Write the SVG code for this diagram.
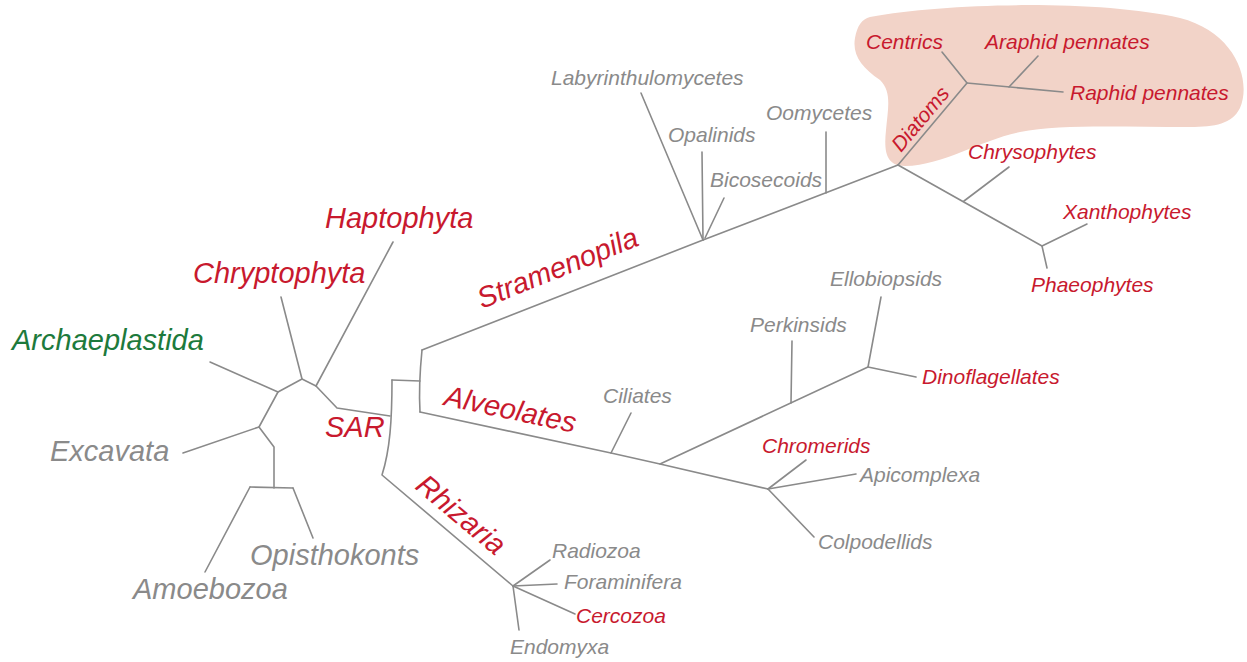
<svg xmlns="http://www.w3.org/2000/svg" width="1247" height="662" viewBox="0 0 1247 662">
<style>
.e{fill:none;stroke:#8a8a8a;stroke-width:1.6;stroke-linejoin:round;stroke-linecap:round}
text{font-family:"Liberation Sans",Arial,sans-serif;font-style:italic}
.L{font-size:29px}
.M{font-size:21px}
.r{fill:#c8192e}
.g{fill:#8a8a8a}
.gr{fill:#1d7a3c}
</style>
<rect width="1247" height="662" fill="#ffffff"/>
<g id="diatom-blob">
<path d="M870,17 C950,2 1100,0 1180,18 C1235,32 1252,80 1240,108 C1232,124 1215,127 1190,127 C1120,127 1060,124 1020,132 C980,140 945,165 905,166 C885,166 884,150 886,130 C888,108 892,92 880,80 C862,68 852,55 855,38 C857,26 862,19 870,17 Z" fill="#f2d3c8"/>
</g>
<g id="connectors">
<path class="e" d="M210,362 L278,392 L302,379 L316,386 L337,408 L390,416"/>
<path class="e" d="M302,379 L281,297"/>
<path class="e" d="M316,386 L393,242"/>
<path class="e" d="M278,392 L259,427 L183,453"/>
<path class="e" d="M259,427 L274,447 L274,488"/>
<path class="e" d="M250,487 L293,488"/>
<path class="e" d="M250,487 L205,572"/>
<path class="e" d="M293,488 L313,538"/>
<path class="e" d="M392,380 C392,420 390,450 382,475 L513,586"/>
<path class="e" d="M392,380 L420,381"/>
<path class="e" d="M422,350 C420,370 419,395 420,412"/>
<path class="e" d="M422,350 L703,240 L898,165"/>
<path class="e" d="M703,240 L641,93"/>
<path class="e" d="M703,240 L702,152"/>
<path class="e" d="M705,238 L724,198"/>
<path class="e" d="M826,193 L826,132"/>
<path class="e" d="M898,165 L967,83 L942,52"/>
<path class="e" d="M967,83 L1063,92"/>
<path class="e" d="M1009,87 L1038,56"/>
<path class="e" d="M898,165 L1042,246 L1087,224"/>
<path class="e" d="M964,201 L1009,167"/>
<path class="e" d="M1042,246 L1047,268"/>
<path class="e" d="M420,412 L611,453 L660,464 L768,489"/>
<path class="e" d="M611,453 L631,413"/>
<path class="e" d="M660,464 L868,367 L881,297"/>
<path class="e" d="M868,367 L916,377"/>
<path class="e" d="M791,403 L792,341"/>
<path class="e" d="M768,489 L806,460"/>
<path class="e" d="M768,489 L856,474"/>
<path class="e" d="M768,489 L814,537"/>
<path class="e" d="M513,586 L550,560"/>
<path class="e" d="M513,586 L557,584"/>
<path class="e" d="M513,586 L575,614"/>
<path class="e" d="M513,586 L519,630"/>
</g>
<g id="n-haptophyta"><text class="L r" x="325" y="228">Haptophyta</text></g>
<g id="n-chryptophyta"><text class="L r" x="193" y="283">Chryptophyta</text></g>
<g id="n-archaeplastida"><text class="L gr" x="12" y="350">Archaeplastida</text></g>
<g id="n-excavata"><text class="L g" x="50" y="461">Excavata</text></g>
<g id="n-opisthokonts"><text class="L g" x="250" y="565">Opisthokonts</text></g>
<g id="n-amoebozoa"><text class="L g" x="133" y="599">Amoebozoa</text></g>
<g id="n-sar"><text class="L r" x="325" y="437">SAR</text></g>
<g id="n-stramenopila"><text class="L r" transform="translate(482,309) rotate(-22)">Stramenopila</text></g>
<g id="n-alveolates"><text class="L r" transform="translate(443,405) rotate(12)">Alveolates</text></g>
<g id="n-rhizaria"><text class="L r" transform="translate(414,488) rotate(40)">Rhizaria</text></g>
<g id="n-diatoms"><text class="M r" transform="translate(901,153) rotate(-50)">Diatoms</text></g>
<g id="n-labyrinthulomycetes"><text class="M g" x="551" y="85">Labyrinthulomycetes</text></g>
<g id="n-opalinids"><text class="M g" x="668" y="142">Opalinids</text></g>
<g id="n-bicosecoids"><text class="M g" x="710" y="187">Bicosecoids</text></g>
<g id="n-oomycetes"><text class="M g" x="766" y="120">Oomycetes</text></g>
<g id="n-centrics"><text class="M r" x="866" y="49">Centrics</text></g>
<g id="n-araphid"><text class="M r" x="985" y="49">Araphid pennates</text></g>
<g id="n-raphid"><text class="M r" x="1070" y="100">Raphid pennates</text></g>
<g id="n-chrysophytes"><text class="M r" x="968" y="159">Chrysophytes</text></g>
<g id="n-xanthophytes"><text class="M r" x="1063" y="219">Xanthophytes</text></g>
<g id="n-phaeophytes"><text class="M r" x="1031" y="292">Phaeophytes</text></g>
<g id="n-ellobiopsids"><text class="M g" x="830" y="286">Ellobiopsids</text></g>
<g id="n-perkinsids"><text class="M g" x="750" y="332">Perkinsids</text></g>
<g id="n-dinoflagellates"><text class="M r" x="922" y="384">Dinoflagellates</text></g>
<g id="n-ciliates"><text class="M g" x="603" y="403">Ciliates</text></g>
<g id="n-chromerids"><text class="M r" x="762" y="453">Chromerids</text></g>
<g id="n-apicomplexa"><text class="M g" x="860" y="482">Apicomplexa</text></g>
<g id="n-colpodellids"><text class="M g" x="818" y="549">Colpodellids</text></g>
<g id="n-radiozoa"><text class="M g" x="552" y="558">Radiozoa</text></g>
<g id="n-foraminifera"><text class="M g" x="564" y="589">Foraminifera</text></g>
<g id="n-cercozoa"><text class="M r" x="576" y="623">Cercozoa</text></g>
<g id="n-endomyxa"><text class="M g" x="510" y="654">Endomyxa</text></g>
</svg>
